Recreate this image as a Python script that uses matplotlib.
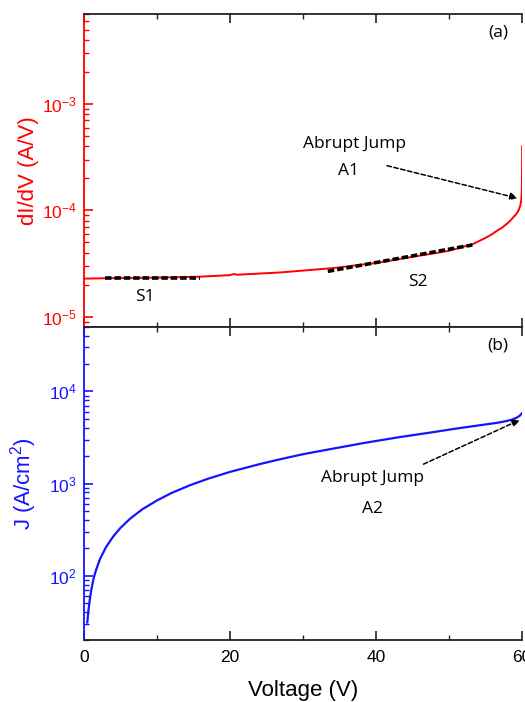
import numpy as np
import matplotlib.pyplot as plt
from matplotlib.ticker import LogLocator, NullFormatter, MultipleLocator

plt.rcParams['font.family'] = ['Liberation Sans', 'DejaVu Sans']
plt.rcParams['mathtext.fontset'] = 'custom'
plt.rcParams['mathtext.rm'] = 'Liberation Sans'
plt.rcParams['mathtext.it'] = 'Liberation Sans:italic'

# panel (a): differential conductance
voltage_a = [0, 3, 10, 16, 20, 20.5, 21, 27, 34, 40, 45, 48.8, 50, 53.3, 54.7,
             55.7, 56.6, 57.3, 57.9, 58.4, 58.8, 59.2, 59.5, 59.75, 59.9, 59.97,
             60.0, 60.02]
didv = [2.28e-5, 2.30e-5, 2.33e-5, 2.38e-5, 2.46e-5, 2.52e-5, 2.48e-5, 2.61e-5,
        2.86e-5, 3.20e-5, 3.66e-5, 4.03e-5, 4.17e-5, 4.83e-5, 5.38e-5,
        5.85e-5, 6.44e-5, 6.9e-5, 7.45e-5, 8.0e-5, 8.6e-5, 9.2e-5, 9.9e-5,
        1.1e-4, 1.25e-4, 1.5e-4, 2.0e-4, 4.0e-4]

# fitted slopes
s1_v = [2.9, 15.9]
s1_val = [2.3e-5, 2.3e-5]
s2_v = [33.4, 53.2]
s2_val = [2.67e-5, 4.73e-5]

# panel (b): current density
voltage_b = [0.45, 0.6, 0.8, 1.0, 1.3, 1.6, 2.2, 3.0, 4.0, 5.0, 6.3, 8.0, 10,
             12, 14.5, 17, 20, 24, 26.8, 30, 33.7, 38.3, 43, 47.4, 51, 54.2,
             56.5, 57.5, 58.5, 59.2, 59.7, 60]
current_density = [31, 41, 56, 70, 92, 112, 152, 203, 266, 330, 414, 526, 655,
                   790, 957, 1128, 1337, 1620, 1830, 2080, 2360, 2749, 3170,
                   3570, 3950, 4290, 4550, 4700, 4900, 5150, 5450, 5800]

red = '#ff0000'
blue = '#1414ff'

fig = plt.figure(figsize=(5.25, 7.02), dpi=100)
gs = fig.add_gridspec(2, 1, left=0.16, right=0.9943, top=0.980, bottom=0.0883,
                      hspace=0)
ax1 = fig.add_subplot(gs[0])
ax2 = fig.add_subplot(gs[1], sharex=ax1)

ax1.plot(voltage_a, didv, color=red, lw=1.4)
ax1.plot(s1_v, s1_val, color='k', lw=2.6, dashes=(1.8, 0.8))
ax1.plot(s2_v, s2_val, color='k', lw=2.6, dashes=(1.8, 0.8))
ax1.set_yscale('log')
ax1.set_ylim(8e-6, 7e-3)

ax2.plot(voltage_b, current_density, color=blue, lw=1.6)
ax2.set_yscale('log')
ax2.set_ylim(20, 5e4)
ax2.set_xlim(0, 60)

txt = dict(family=['Open Sans', 'DejaVu Sans'], fontsize=12.5, ha='center', va='center')
ax1.text(37.1, 4.2e-4, 'Abrupt Jump', **txt)
ax1.text(36.2, 2.36e-4, 'A1', **txt)
ax1.text(8.4, 1.54e-5, 'S1', **txt)
ax1.text(45.8, 2.1e-5, 'S2', **txt)
ax1.text(56.7, 0.94, '(a)', transform=ax1.get_xaxis_transform(), **txt)
ax2.text(39.5, 1161, 'Abrupt Jump', **txt)
ax2.text(39.5, 532, 'A2', **txt)
ax2.text(56.7, 0.94, '(b)', transform=ax2.get_xaxis_transform(), **txt)

arrow = dict(arrowstyle='-|>', linestyle=(0, (3, 1.6)), lw=1.1, color='k',
             mutation_scale=11, shrinkA=0, shrinkB=0)
ax1.annotate('', xy=(59.4, 1.3e-4), xytext=(41.5, 2.63e-4), arrowprops=arrow)
ax2.annotate('', xy=(59.7, 4900), xytext=(46.5, 1622), arrowprops=arrow)

for ax, c in [(ax1, red), (ax2, blue)]:
    ax.spines['right'].set_visible(False)
    ax.spines['left'].set_color(c)
    for s in ['left', 'top', 'bottom']:
        ax.spines[s].set_linewidth(1.3)
    ax.spines['top'].set_color('#222222')
    ax.spines['bottom'].set_color('#222222')
    ax.yaxis.set_major_locator(LogLocator(base=10, numticks=10))
    ax.yaxis.set_minor_locator(LogLocator(base=10, subs=np.arange(2, 10), numticks=20))
    ax.yaxis.set_minor_formatter(NullFormatter())
    ax.tick_params(axis='y', which='major', direction='in', length=6.5, width=1.2,
                   color=c, labelcolor=c, labelsize=12.5, pad=5, right=False)
    ax.tick_params(axis='y', which='minor', direction='in', length=3.5, width=1.0,
                   color=c, right=False)
    ax.xaxis.set_major_locator(MultipleLocator(20))
    ax.xaxis.set_minor_locator(MultipleLocator(10))
    ax.tick_params(axis='x', which='major', direction='in', length=6.5, width=1.2,
                   color='#222222', labelsize=12.5, pad=7, top=True)
    ax.tick_params(axis='x', which='minor', direction='in', length=3.5, width=1.0,
                   color='#222222', top=True)

ax1.tick_params(axis='x', labelbottom=False)

ax1.set_ylabel('dI/dV (A/V)', color=red, fontsize=16)
ax1.yaxis.set_label_coords(-0.103, 0.5)
ax2.set_ylabel('J (A/cm$^2$)', color=blue, fontsize=16)
ax2.yaxis.set_label_coords(-0.103, 0.5)
ax2.set_xlabel('Voltage (V)', fontsize=16, labelpad=11)

fig.savefig('out.png', dpi=100)
